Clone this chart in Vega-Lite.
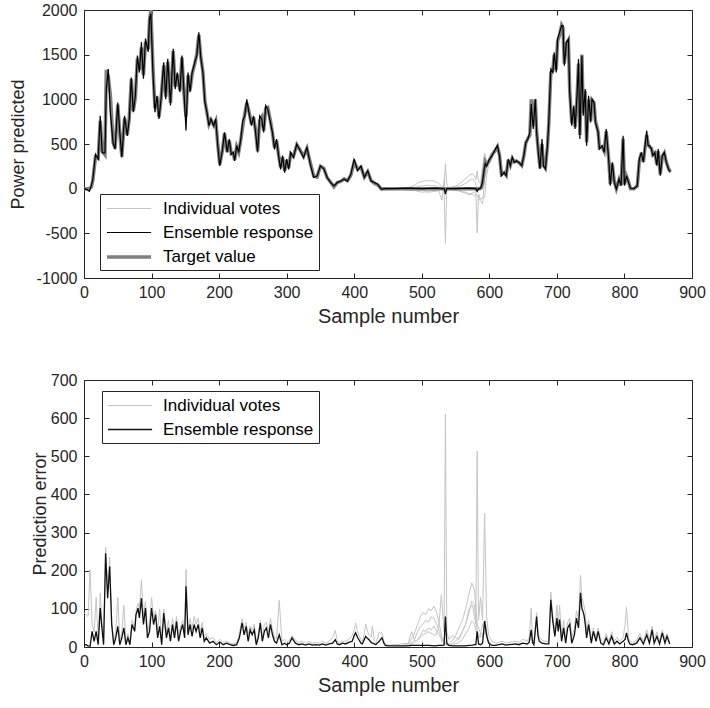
{
"$schema":"https://vega.github.io/schema/vega-lite/v6.json",
"padding":{"left":8,"top":1,"right":5,"bottom":5},
"spacing":44,
"config":{
 "font":"Liberation Sans",
 "view":{"stroke":"#262626","strokeWidth":1},
 "axis":{"grid":false,"domain":false,"tickColor":"#262626","tickSize":-5,"tickWidth":1,"labelFont":"Liberation Sans","labelFontSize":16,"labelColor":"#262626","titleFont":"Liberation Sans","titleFontSize":20,"titleFontWeight":"normal","titleColor":"#262626","labelFlush":false,"labelOverlap":false},
 "legend":{"title":null,"orient":"none","symbolType":"M-1,0H3.9","symbolSize":324,"labelFont":"Liberation Sans","labelFontSize":17,"labelColor":"#000000","fillColor":"#ffffff","strokeColor":"#262626","padding":5,"rowPadding":5.5,"labelOffset":36,"labelLimit":300}
},
"datasets":{
"top":[{"x":0,"e":0,"t":0},{"x":4,"e":-10,"t":0},{"x":8,"e":-30,"t":0},{"x":11,"e":40,"t":20},{"x":13,"e":105,"t":90},{"x":17,"e":385,"t":350},{"x":21,"e":330,"t":340},{"x":24,"e":815,"t":760},{"x":27,"e":400,"t":420},{"x":31,"e":400,"t":380},{"x":33,"e":1115,"t":1330},{"x":36,"e":1340,"t":1250},{"x":39,"e":855,"t":1050},{"x":43,"e":515,"t":520},{"x":46,"e":440,"t":450},{"x":50,"e":965,"t":940},{"x":53,"e":630,"t":620},{"x":56,"e":350,"t":360},{"x":60,"e":815,"t":790},{"x":64,"e":590,"t":600},{"x":67,"e":780,"t":790},{"x":70,"e":1245,"t":1230},{"x":73,"e":855,"t":870},{"x":76,"e":1040,"t":1020},{"x":79,"e":1490,"t":1460},{"x":82,"e":1300,"t":1330},{"x":85,"e":1640,"t":1580},{"x":88,"e":1230,"t":1270},{"x":91,"e":1680,"t":1640},{"x":95,"e":1530,"t":1560},{"x":97,"e":1900,"t":1880},{"x":99,"e":1960,"t":2000},{"x":102,"e":1300,"t":1380},{"x":105,"e":855,"t":900},{"x":108,"e":1040,"t":1030},{"x":111,"e":780,"t":800},{"x":114,"e":1000,"t":1000},{"x":118,"e":1415,"t":1380},{"x":121,"e":1000,"t":1030},{"x":124,"e":1455,"t":1420},{"x":128,"e":930,"t":960},{"x":132,"e":1565,"t":1540},{"x":135,"e":1115,"t":1140},{"x":138,"e":1300,"t":1280},{"x":142,"e":1080,"t":1100},{"x":145,"e":1490,"t":1470},{"x":148,"e":1080,"t":1060},{"x":151,"e":650,"t":810},{"x":154,"e":1300,"t":1270},{"x":157,"e":1080,"t":1100},{"x":160,"e":1300,"t":1280},{"x":164,"e":1415,"t":1400},{"x":167,"e":1490,"t":1510},{"x":170,"e":1750,"t":1720},{"x":173,"e":1455,"t":1470},{"x":176,"e":1300,"t":1310},{"x":179,"e":965,"t":980},{"x":182,"e":855,"t":850},{"x":185,"e":705,"t":720},{"x":188,"e":780,"t":770},{"x":192,"e":705,"t":710},{"x":195,"e":780,"t":760},{"x":198,"e":480,"t":500},{"x":201,"e":255,"t":270},{"x":205,"e":440,"t":430},{"x":208,"e":630,"t":620},{"x":212,"e":405,"t":410},{"x":215,"e":555,"t":540},{"x":218,"e":385,"t":390},{"x":221,"e":405,"t":400},{"x":223,"e":310,"t":320},{"x":226,"e":480,"t":470},{"x":229,"e":405,"t":410},{"x":232,"e":555,"t":540},{"x":235,"e":760,"t":700},{"x":238,"e":815,"t":840},{"x":241,"e":1000,"t":960},{"x":244,"e":855,"t":870},{"x":248,"e":705,"t":720},{"x":251,"e":815,"t":800},{"x":254,"e":630,"t":650},{"x":257,"e":405,"t":420},{"x":260,"e":815,"t":760},{"x":263,"e":780,"t":800},{"x":266,"e":630,"t":650},{"x":269,"e":930,"t":900},{"x":272,"e":890,"t":910},{"x":276,"e":740,"t":760},{"x":279,"e":630,"t":620},{"x":282,"e":440,"t":460},{"x":285,"e":555,"t":540},{"x":288,"e":370,"t":380},{"x":291,"e":215,"t":240},{"x":294,"e":370,"t":350},{"x":297,"e":180,"t":200},{"x":300,"e":330,"t":320},{"x":303,"e":215,"t":230},{"x":306,"e":405,"t":390},{"x":310,"e":350,"t":360},{"x":315,"e":500,"t":490},{"x":320,"e":425,"t":430},{"x":325,"e":350,"t":360},{"x":330,"e":460,"t":450},{"x":335,"e":275,"t":290},{"x":340,"e":125,"t":140},{"x":345,"e":140,"t":130},{"x":350,"e":255,"t":250},{"x":355,"e":220,"t":230},{"x":360,"e":125,"t":120},{"x":365,"e":68,"t":75},{"x":370,"e":30,"t":20},{"x":375,"e":68,"t":70},{"x":380,"e":85,"t":80},{"x":385,"e":105,"t":110},{"x":390,"e":85,"t":90},{"x":395,"e":160,"t":150},{"x":400,"e":330,"t":300},{"x":405,"e":200,"t":220},{"x":410,"e":255,"t":240},{"x":415,"e":125,"t":130},{"x":420,"e":200,"t":190},{"x":425,"e":85,"t":90},{"x":430,"e":68,"t":60},{"x":435,"e":50,"t":40},{"x":440,"e":-8,"t":0},{"x":445,"e":0,"t":0},{"x":460,"e":0,"t":0},{"x":480,"e":5,"t":0},{"x":500,"e":0,"t":0},{"x":520,"e":5,"t":0},{"x":530,"e":0,"t":0},{"x":533,"e":0,"t":0},{"x":535,"e":-60,"t":0},{"x":537,"e":0,"t":0},{"x":550,"e":0,"t":0},{"x":570,"e":5,"t":0},{"x":580,"e":0,"t":0},{"x":582,"e":-30,"t":0},{"x":584,"e":0,"t":0},{"x":586,"e":0,"t":0},{"x":588,"e":20,"t":10},{"x":590,"e":80,"t":60},{"x":592,"e":200,"t":180},{"x":594,"e":280,"t":300},{"x":596,"e":250,"t":270},{"x":599,"e":313,"t":300},{"x":604,"e":369,"t":380},{"x":609,"e":443,"t":430},{"x":612,"e":481,"t":470},{"x":615,"e":369,"t":380},{"x":618,"e":145,"t":160},{"x":622,"e":183,"t":180},{"x":625,"e":145,"t":150},{"x":628,"e":332,"t":320},{"x":631,"e":257,"t":260},{"x":634,"e":350,"t":340},{"x":637,"e":294,"t":300},{"x":640,"e":313,"t":310},{"x":644,"e":294,"t":290},{"x":648,"e":257,"t":260},{"x":651,"e":369,"t":360},{"x":654,"e":518,"t":510},{"x":657,"e":556,"t":560},{"x":660,"e":630,"t":600},{"x":662,"e":947,"t":1000},{"x":665,"e":668,"t":700},{"x":668,"e":1003,"t":1000},{"x":670,"e":630,"t":640},{"x":673,"e":369,"t":380},{"x":675,"e":220,"t":230},{"x":678,"e":556,"t":500},{"x":680,"e":257,"t":260},{"x":683,"e":220,"t":230},{"x":686,"e":481,"t":470},{"x":688,"e":742,"t":720},{"x":691,"e":1339,"t":1300},{"x":694,"e":1301,"t":1320},{"x":696,"e":1525,"t":1500},{"x":699,"e":1301,"t":1330},{"x":701,"e":1675,"t":1650},{"x":704,"e":1749,"t":1720},{"x":707,"e":1824,"t":1830},{"x":709,"e":1824,"t":1800},{"x":711,"e":1376,"t":1400},{"x":714,"e":1637,"t":1620},{"x":717,"e":1675,"t":1660},{"x":719,"e":1077,"t":1100},{"x":722,"e":705,"t":730},{"x":725,"e":929,"t":900},{"x":727,"e":668,"t":690},{"x":730,"e":1077,"t":1050},{"x":732,"e":1451,"t":1400},{"x":734,"e":556,"t":600},{"x":737,"e":1488,"t":1500},{"x":739,"e":817,"t":850},{"x":742,"e":1115,"t":1090},{"x":744,"e":481,"t":520},{"x":747,"e":1040,"t":1000},{"x":750,"e":742,"t":760},{"x":752,"e":1003,"t":990},{"x":755,"e":966,"t":960},{"x":757,"e":742,"t":760},{"x":761,"e":630,"t":640},{"x":763,"e":443,"t":460},{"x":767,"e":481,"t":470},{"x":770,"e":406,"t":420},{"x":773,"e":668,"t":640},{"x":777,"e":294,"t":300},{"x":779,"e":33,"t":50},{"x":782,"e":294,"t":280},{"x":785,"e":70,"t":80},{"x":788,"e":-4,"t":0},{"x":792,"e":108,"t":100},{"x":795,"e":33,"t":40},{"x":798,"e":593,"t":560},{"x":800,"e":33,"t":50},{"x":803,"e":145,"t":140},{"x":806,"e":70,"t":80},{"x":809,"e":4,"t":0},{"x":814,"e":0,"t":0},{"x":819,"e":33,"t":30},{"x":822,"e":332,"t":310},{"x":825,"e":406,"t":400},{"x":828,"e":294,"t":300},{"x":831,"e":518,"t":490},{"x":833,"e":649,"t":600},{"x":835,"e":481,"t":500},{"x":837,"e":481,"t":470},{"x":840,"e":443,"t":450},{"x":842,"e":369,"t":380},{"x":845,"e":406,"t":400},{"x":848,"e":257,"t":270},{"x":850,"e":443,"t":420},{"x":853,"e":145,"t":160},{"x":856,"e":369,"t":360},{"x":859,"e":406,"t":400},{"x":862,"e":294,"t":300},{"x":865,"e":220,"t":230},{"x":868,"e":183,"t":190}],
"topVotes":[{"x":440,"v1":0,"v2":0,"v3":0,"v4":-20},{"x":460,"v1":5,"v2":0,"v3":-5,"v4":-10},{"x":480,"v1":10,"v2":5,"v3":-10,"v4":-15},{"x":490,"v1":40,"v2":15,"v3":-20,"v4":-20},{"x":495,"v1":70,"v2":25,"v3":-25,"v4":-30},{"x":500,"v1":80,"v2":30,"v3":-15,"v4":-40},{"x":505,"v1":90,"v2":35,"v3":-25,"v4":-35},{"x":510,"v1":85,"v2":40,"v3":-30,"v4":-40},{"x":515,"v1":95,"v2":30,"v3":-20,"v4":-35},{"x":520,"v1":80,"v2":35,"v3":-25,"v4":-30},{"x":525,"v1":60,"v2":20,"v3":-15,"v4":-20},{"x":530,"v1":20,"v2":10,"v3":-5,"v4":-130},{"x":533,"v1":30,"v2":5,"v3":-10,"v4":100},{"x":535,"v1":280,"v2":-60,"v3":-612,"v4":-40},{"x":537,"v1":50,"v2":0,"v3":10,"v4":-20},{"x":540,"v1":10,"v2":5,"v3":-5,"v4":-10},{"x":545,"v1":20,"v2":10,"v3":-10,"v4":-15},{"x":550,"v1":30,"v2":15,"v3":-15,"v4":-20},{"x":555,"v1":50,"v2":25,"v3":-20,"v4":-25},{"x":560,"v1":80,"v2":40,"v3":-30,"v4":-40},{"x":565,"v1":110,"v2":60,"v3":-40,"v4":-50},{"x":570,"v1":150,"v2":90,"v3":-60,"v4":-70},{"x":575,"v1":168,"v2":110,"v3":-50,"v4":-60},{"x":578,"v1":140,"v2":80,"v3":-40,"v4":-80},{"x":580,"v1":100,"v2":60,"v3":-20,"v4":-60},{"x":582,"v1":200,"v2":-30,"v3":-496,"v4":-80},{"x":584,"v1":80,"v2":20,"v3":-60,"v4":-100},{"x":587,"v1":60,"v2":0,"v3":-120,"v4":-140},{"x":590,"v1":250,"v2":100,"v3":-100,"v4":-170},{"x":593,"v1":400,"v2":200,"v3":-100,"v4":120},{"x":596,"v1":300,"v2":250,"v3":150,"v4":200},{"x":600,"v1":320,"v2":310,"v3":300,"v4":330},{"x":605,"v1":370,"v2":365,"v3":360,"v4":375}],
"bot":[{"x":0,"e":5,"v1":90},{"x":3,"e":6,"v1":85},{"x":6,"e":3,"v1":80},{"x":9,"e":2,"v1":203},{"x":12,"e":41,"v1":60},{"x":15,"e":15,"v1":40},{"x":18,"e":41,"v1":130},{"x":21,"e":6,"v1":20},{"x":24,"e":102,"v1":141},{"x":26,"e":60,"v1":80},{"x":29,"e":6,"v1":15},{"x":32,"e":246,"v1":262},{"x":35,"e":128,"v1":150},{"x":38,"e":211,"v1":235},{"x":41,"e":59,"v1":70},{"x":44,"e":6,"v1":12},{"x":47,"e":24,"v1":40},{"x":50,"e":54,"v1":130},{"x":53,"e":6,"v1":15},{"x":56,"e":24,"v1":40},{"x":59,"e":50,"v1":110},{"x":62,"e":6,"v1":15},{"x":65,"e":24,"v1":35},{"x":68,"e":6,"v1":12},{"x":71,"e":59,"v1":70},{"x":75,"e":41,"v1":50},{"x":77,"e":85,"v1":95},{"x":80,"e":102,"v1":115},{"x":82,"e":76,"v1":100},{"x":85,"e":128,"v1":176},{"x":88,"e":59,"v1":80},{"x":91,"e":102,"v1":120},{"x":94,"e":24,"v1":40},{"x":97,"e":41,"v1":60},{"x":100,"e":102,"v1":130},{"x":103,"e":59,"v1":80},{"x":106,"e":85,"v1":95},{"x":109,"e":24,"v1":40},{"x":112,"e":54,"v1":100},{"x":115,"e":6,"v1":15},{"x":118,"e":89,"v1":100},{"x":122,"e":24,"v1":40},{"x":125,"e":50,"v1":70},{"x":128,"e":15,"v1":25},{"x":131,"e":59,"v1":75},{"x":134,"e":24,"v1":40},{"x":137,"e":67,"v1":80},{"x":140,"e":15,"v1":30},{"x":143,"e":41,"v1":55},{"x":146,"e":59,"v1":70},{"x":149,"e":24,"v1":40},{"x":151,"e":159,"v1":203},{"x":154,"e":32,"v1":45},{"x":157,"e":59,"v1":75},{"x":160,"e":28,"v1":45},{"x":163,"e":59,"v1":80},{"x":166,"e":41,"v1":60},{"x":169,"e":59,"v1":75},{"x":172,"e":24,"v1":40},{"x":175,"e":50,"v1":65},{"x":178,"e":15,"v1":25},{"x":181,"e":24,"v1":35},{"x":186,"e":10,"v1":20},{"x":191,"e":15,"v1":25},{"x":196,"e":6,"v1":12},{"x":201,"e":13,"v1":20},{"x":206,"e":6,"v1":12},{"x":211,"e":10,"v1":15},{"x":216,"e":6,"v1":10},{"x":221,"e":4,"v1":8},{"x":226,"e":6,"v1":12},{"x":230,"e":24,"v1":35},{"x":234,"e":63,"v1":75},{"x":237,"e":32,"v1":50},{"x":240,"e":54,"v1":65},{"x":243,"e":15,"v1":30},{"x":246,"e":45,"v1":55},{"x":249,"e":32,"v1":45},{"x":252,"e":45,"v1":60},{"x":255,"e":6,"v1":15},{"x":258,"e":24,"v1":35},{"x":261,"e":63,"v1":70},{"x":264,"e":15,"v1":25},{"x":267,"e":41,"v1":60},{"x":270,"e":50,"v1":65},{"x":273,"e":24,"v1":40},{"x":276,"e":59,"v1":75},{"x":279,"e":32,"v1":45},{"x":282,"e":15,"v1":25},{"x":285,"e":10,"v1":20},{"x":289,"e":32,"v1":122},{"x":293,"e":6,"v1":15},{"x":297,"e":10,"v1":20},{"x":300,"e":6,"v1":12},{"x":304,"e":10,"v1":18},{"x":308,"e":24,"v1":30},{"x":313,"e":10,"v1":18},{"x":318,"e":6,"v1":12},{"x":323,"e":8,"v1":15},{"x":328,"e":5,"v1":10},{"x":333,"e":8,"v1":15},{"x":338,"e":5,"v1":10},{"x":343,"e":6,"v1":12},{"x":348,"e":5,"v1":10},{"x":353,"e":8,"v1":15},{"x":358,"e":5,"v1":10},{"x":363,"e":8,"v1":15},{"x":368,"e":10,"v1":25},{"x":372,"e":19,"v1":43},{"x":375,"e":8,"v1":15},{"x":378,"e":6,"v1":12},{"x":383,"e":10,"v1":15},{"x":387,"e":8,"v1":15},{"x":392,"e":12,"v1":20},{"x":397,"e":15,"v1":30},{"x":400,"e":30,"v1":45},{"x":402,"e":37,"v1":63},{"x":405,"e":25,"v1":40},{"x":407,"e":19,"v1":30},{"x":410,"e":10,"v1":20},{"x":412,"e":8,"v1":15},{"x":415,"e":20,"v1":35},{"x":417,"e":28,"v1":60},{"x":420,"e":22,"v1":40},{"x":422,"e":19,"v1":30},{"x":425,"e":12,"v1":25},{"x":427,"e":10,"v1":55},{"x":430,"e":8,"v1":15},{"x":432,"e":6,"v1":12},{"x":435,"e":12,"v1":25},{"x":437,"e":15,"v1":40},{"x":439,"e":20,"v1":35},{"x":441,"e":24,"v1":38},{"x":444,"e":10,"v1":15},{"x":446,"e":4,"v1":8},{"x":450,"e":3,"v1":5},{"x":460,"e":3,"v1":6},{"x":470,"e":3,"v1":8},{"x":480,"e":3,"v1":10},{"x":485,"e":4,"v1":40},{"x":490,"e":4,"v1":15},{"x":495,"e":4,"v1":20},{"x":500,"e":4,"v1":30},{"x":510,"e":4,"v1":40},{"x":520,"e":3,"v1":30},{"x":525,"e":4,"v1":50},{"x":529,"e":4,"v1":137},{"x":533,"e":5,"v1":40},{"x":535,"e":80,"v1":611},{"x":537,"e":10,"v1":40},{"x":540,"e":4,"v1":20},{"x":545,"e":3,"v1":30},{"x":550,"e":3,"v1":25},{"x":555,"e":3,"v1":20},{"x":560,"e":3,"v1":40},{"x":565,"e":3,"v1":60},{"x":570,"e":4,"v1":100},{"x":575,"e":5,"v1":110},{"x":578,"e":6,"v1":80},{"x":580,"e":6,"v1":60},{"x":582,"e":41,"v1":513},{"x":584,"e":8,"v1":70},{"x":587,"e":6,"v1":130},{"x":590,"e":10,"v1":70},{"x":593,"e":68,"v1":351},{"x":596,"e":30,"v1":80},{"x":599,"e":10,"v1":30},{"x":604,"e":4,"v1":15},{"x":609,"e":4,"v1":10},{"x":614,"e":6,"v1":12},{"x":619,"e":8,"v1":15},{"x":624,"e":5,"v1":10},{"x":629,"e":6,"v1":12},{"x":634,"e":7,"v1":14},{"x":639,"e":8,"v1":15},{"x":644,"e":6,"v1":12},{"x":649,"e":10,"v1":20},{"x":653,"e":9,"v1":18},{"x":656,"e":8,"v1":15},{"x":659,"e":12,"v1":25},{"x":662,"e":45,"v1":102},{"x":664,"e":12,"v1":20},{"x":666,"e":6,"v1":12},{"x":670,"e":80,"v1":90},{"x":672,"e":30,"v1":40},{"x":674,"e":15,"v1":25},{"x":678,"e":10,"v1":18},{"x":683,"e":8,"v1":15},{"x":688,"e":8,"v1":15},{"x":691,"e":124,"v1":144},{"x":694,"e":67,"v1":80},{"x":697,"e":28,"v1":40},{"x":700,"e":76,"v1":110},{"x":702,"e":41,"v1":60},{"x":704,"e":72,"v1":109},{"x":707,"e":15,"v1":30},{"x":710,"e":50,"v1":70},{"x":713,"e":10,"v1":25},{"x":716,"e":50,"v1":65},{"x":719,"e":60,"v1":75},{"x":722,"e":10,"v1":25},{"x":726,"e":32,"v1":50},{"x":729,"e":76,"v1":95},{"x":732,"e":50,"v1":70},{"x":735,"e":142,"v1":188},{"x":737,"e":102,"v1":130},{"x":740,"e":85,"v1":110},{"x":742,"e":60,"v1":90},{"x":744,"e":24,"v1":40},{"x":747,"e":59,"v1":70},{"x":751,"e":10,"v1":20},{"x":754,"e":41,"v1":50},{"x":758,"e":15,"v1":25},{"x":761,"e":41,"v1":50},{"x":765,"e":10,"v1":20},{"x":769,"e":6,"v1":12},{"x":773,"e":24,"v1":35},{"x":777,"e":8,"v1":15},{"x":781,"e":28,"v1":40},{"x":785,"e":8,"v1":15},{"x":789,"e":15,"v1":25},{"x":793,"e":8,"v1":15},{"x":798,"e":15,"v1":25},{"x":801,"e":20,"v1":60},{"x":803,"e":37,"v1":104},{"x":806,"e":15,"v1":25},{"x":808,"e":8,"v1":15},{"x":812,"e":6,"v1":12},{"x":818,"e":10,"v1":18},{"x":823,"e":24,"v1":35},{"x":828,"e":8,"v1":15},{"x":833,"e":32,"v1":45},{"x":837,"e":10,"v1":20},{"x":841,"e":45,"v1":55},{"x":844,"e":10,"v1":20},{"x":848,"e":28,"v1":40},{"x":852,"e":8,"v1":15},{"x":856,"e":37,"v1":45},{"x":860,"e":10,"v1":20},{"x":863,"e":28,"v1":35},{"x":867,"e":8,"v1":12}],
"botVotes":[{"x":470,"v2":3,"v3":3,"v4":3},{"x":480,"v2":8,"v3":5,"v4":4},{"x":488,"v2":30,"v3":15,"v4":10},{"x":494,"v2":60,"v3":40,"v4":20},{"x":498,"v2":80,"v3":55,"v4":30},{"x":502,"v2":90,"v3":60,"v4":45},{"x":506,"v2":85,"v3":70,"v4":40},{"x":510,"v2":100,"v3":65,"v4":50},{"x":514,"v2":95,"v3":80,"v4":45},{"x":518,"v2":107,"v3":75,"v4":55},{"x":522,"v2":90,"v3":60,"v4":40},{"x":526,"v2":60,"v3":40,"v4":30},{"x":530,"v2":25,"v3":20,"v4":15},{"x":535,"v2":10,"v3":8,"v4":6},{"x":540,"v2":8,"v3":5,"v4":4},{"x":545,"v2":15,"v3":8,"v4":5},{"x":550,"v2":30,"v3":15,"v4":8},{"x":555,"v2":50,"v3":25,"v4":12},{"x":560,"v2":70,"v3":40,"v4":20},{"x":565,"v2":100,"v3":60,"v4":35},{"x":570,"v2":140,"v3":90,"v4":50},{"x":574,"v2":168,"v3":120,"v4":68},{"x":578,"v2":150,"v3":110,"v4":60},{"x":582,"v2":60,"v3":40,"v4":30},{"x":586,"v2":40,"v3":30,"v4":25},{"x":590,"v2":30,"v3":25,"v4":60},{"x":594,"v2":50,"v3":40,"v4":70},{"x":598,"v2":20,"v3":15,"v4":15},{"x":602,"v2":8,"v3":6,"v4":5}]
},
"vconcat":[
 {
  "width":608,"height":268,
  "layer":[
   {"data":{"name":"topVotes"},"transform":[{"fold":["v1","v2","v3","v4"],"as":["k","val"]}],
    "mark":{"type":"line","clip":true},
    "encoding":{
     "x":{"field":"x","type":"quantitative","scale":{"domain":[0,900]},"axis":{"orient":"top","labels":false,"title":null,"values":[0,100,200,300,400,500,600,700,800,900]}},
     "y":{"field":"val","type":"quantitative","scale":{"domain":[-1000,2000]},"axis":{"orient":"right","labels":false,"title":null,"values":[-1000,-500,0,500,1000,1500,2000]}},
     "color":{"field":"k","type":"nominal","scale":{"type":"ordinal","domain":["v1","v2","v3","v4","t","e"],"range":["#c4c4c4","#c4c4c4","#c4c4c4","#c4c4c4","#7f7f7f","#000000"]},"legend":{"values":["v1","e","t"],"legendX":16,"legendY":184,"labelExpr":"datum.value=='v1'?'Individual votes':datum.value=='e'?'Ensemble response':'Target value'"}},
     "strokeWidth":{"field":"k","type":"nominal","scale":{"type":"ordinal","domain":["v1","v2","v3","v4","t","e"],"range":[1,1,1,1,3.5,1.2]},"legend":{"values":["v1","e","t"],"legendX":16,"legendY":184,"labelExpr":"datum.value=='v1'?'Individual votes':datum.value=='e'?'Ensemble response':'Target value'"}}
    }},
   {"data":{"name":"top"},"transform":[{"fold":["t","e"],"as":["k","val"]}],
    "mark":{"type":"line","clip":true},
    "encoding":{
     "x":{"field":"x","type":"quantitative","axis":{"title":"Sample number","values":[0,100,200,300,400,500,600,700,800,900],"labelPadding":11,"titlePadding":6}},
     "y":{"field":"val","type":"quantitative","axis":{"title":"Power predicted","values":[-1000,-500,0,500,1000,1500,2000],"labelExpr":"''+datum.value","labelPadding":12,"titlePadding":9,"titleFontSize":18}},
     "color":{"field":"k","type":"nominal","scale":{"type":"ordinal","domain":["v1","v2","v3","v4","t","e"],"range":["#c4c4c4","#c4c4c4","#c4c4c4","#c4c4c4","#7f7f7f","#000000"]},"legend":{"values":["v1","e","t"],"legendX":16,"legendY":184,"labelExpr":"datum.value=='v1'?'Individual votes':datum.value=='e'?'Ensemble response':'Target value'"}},
     "strokeWidth":{"field":"k","type":"nominal","scale":{"type":"ordinal","domain":["v1","v2","v3","v4","t","e"],"range":[1,1,1,1,3.5,1.2]},"legend":{"values":["v1","e","t"],"legendX":16,"legendY":184,"labelExpr":"datum.value=='v1'?'Individual votes':datum.value=='e'?'Ensemble response':'Target value'"}}
    }}
  ],
  "resolve":{"axis":{"x":"independent","y":"independent"},"scale":{"color":"shared","strokeWidth":"shared"}}
 },
 {
  "width":608,"height":267,
  "layer":[
   {"data":{"name":"botVotes"},"transform":[{"fold":["v2","v3","v4"],"as":["k","val"]}],
    "mark":{"type":"line","clip":true},
    "encoding":{
     "x":{"field":"x","type":"quantitative","scale":{"domain":[0,900]},"axis":{"orient":"top","labels":false,"title":null,"values":[0,100,200,300,400,500,600,700,800,900]}},
     "y":{"field":"val","type":"quantitative","scale":{"domain":[0,700]},"axis":{"orient":"right","labels":false,"title":null,"values":[0,100,200,300,400,500,600,700]}},
     "color":{"field":"k","type":"nominal","scale":{"type":"ordinal","domain":["v1","v2","v3","v4","e"],"range":["#c4c4c4","#c4c4c4","#c4c4c4","#c4c4c4","#111111"]},"legend":{"values":["v1","e"],"legendX":18,"legendY":11,"labelExpr":"datum.value=='v1'?'Individual votes':'Ensemble response'"}},
     "strokeWidth":{"field":"k","type":"nominal","scale":{"type":"ordinal","domain":["v1","v2","v3","v4","e"],"range":[1,1,1,1,1.3]},"legend":{"values":["v1","e"],"legendX":18,"legendY":11,"labelExpr":"datum.value=='v1'?'Individual votes':'Ensemble response'"}}
    }},
   {"data":{"name":"bot"},"transform":[{"fold":["v1","e"],"as":["k","val"]}],
    "mark":{"type":"line","clip":true},
    "encoding":{
     "x":{"field":"x","type":"quantitative","axis":{"title":"Sample number","values":[0,100,200,300,400,500,600,700,800,900],"labelPadding":11,"titlePadding":6}},
     "y":{"field":"val","type":"quantitative","axis":{"title":"Prediction error","values":[0,100,200,300,400,500,600,700],"labelExpr":"''+datum.value","labelPadding":12,"titlePadding":1,"titleFontSize":18}},
     "color":{"field":"k","type":"nominal","scale":{"type":"ordinal","domain":["v1","v2","v3","v4","e"],"range":["#c4c4c4","#c4c4c4","#c4c4c4","#c4c4c4","#111111"]},"legend":{"values":["v1","e"],"legendX":18,"legendY":11,"labelExpr":"datum.value=='v1'?'Individual votes':'Ensemble response'"}},
     "strokeWidth":{"field":"k","type":"nominal","scale":{"type":"ordinal","domain":["v1","v2","v3","v4","e"],"range":[1,1,1,1,1.3]},"legend":{"values":["v1","e"],"legendX":18,"legendY":11,"labelExpr":"datum.value=='v1'?'Individual votes':'Ensemble response'"}}
    }}
  ],
  "resolve":{"axis":{"x":"independent","y":"independent"},"scale":{"color":"shared","strokeWidth":"shared"}}
 }
],
"resolve":{"scale":{"color":"independent","strokeWidth":"independent"}}
}
